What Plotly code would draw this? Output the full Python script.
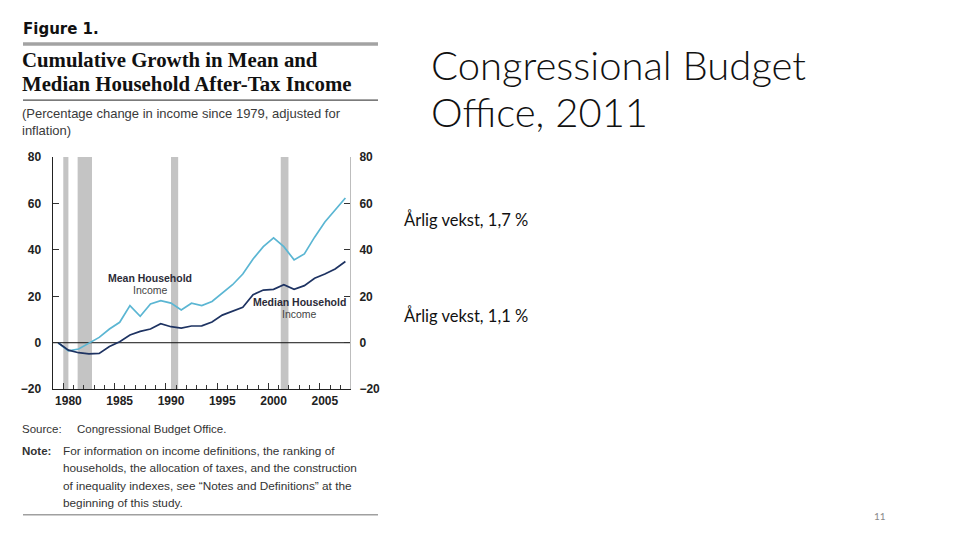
import plotly.graph_objects as go

# Chart data (percentage change since 1979)
years = list(range(1979, 2008))
mean_income = [0, -3.5, -2.7, -0.3, 2.3, 5.9, 8.8, 16.0, 11.4, 16.7,
               18.1, 17.1, 14.1, 17.0, 16.0, 17.8, 21.3, 25.0, 29.6, 36.1,
               41.4, 45.2, 41.4, 35.7, 38.3, 45.5, 52.0, 57.0, 62.4]
median_income = [0, -3.2, -4.3, -4.8, -4.6, -1.6, 0.4, 3.3, 4.9, 5.9,
                 8.2, 6.9, 6.3, 7.2, 7.3, 8.9, 11.9, 13.5, 15.3, 20.7,
                 22.7, 23.0, 25.0, 23.0, 24.6, 27.8, 29.6, 31.8, 35.0]

# recession shading (start, end) in chart years
rec_start = [1979.5, 1980.9, 1990.0, 2000.7]
rec_end = [1980.0, 1982.3, 1990.7, 2001.45]

tick_years = [1980, 1985, 1990, 1995, 2000, 2005]
y_ticks = [-20, 0, 20, 40, 60, 80]

W, H = 960, 540
MEAN_COLOR = "#5bb6d3"
MEDIAN_COLOR = "#1e3362"


# map slide pixel positions to paper coords (page offset + the photo's slight vertical squeeze)
def px_x(p):
    return (p - 8) / W


def px_y(p):
    return 1 - ((p - 14.4) / 0.974) / H


fig = go.Figure()

fig.add_trace(go.Scatter(
    x=years, y=mean_income, mode="lines",
    line=dict(color=MEAN_COLOR, width=1.7),
    name="Mean Household Income", xaxis="x", yaxis="y",
))
fig.add_trace(go.Scatter(
    x=years, y=median_income, mode="lines",
    line=dict(color=MEDIAN_COLOR, width=1.7),
    name="Median Household Income", xaxis="x2", yaxis="y2",
))

shapes = []
for s, e in zip(rec_start, rec_end):
    shapes.append(dict(type="rect", xref="x", yref="y domain", x0=s, x1=e, y0=0, y1=1,
                       fillcolor="#c4c4c4", line=dict(width=0), layer="below"))
# zero line over the shading
shapes.append(dict(type="line", xref="x domain", yref="y", x0=0, x1=1, y0=0, y1=0,
                   line=dict(color="#111111", width=1), layer="below"))
# rules of the figure box
shapes.append(dict(type="line", xref="paper", yref="paper", x0=px_x(23), x1=px_x(378),
                   y0=px_y(43.3), y1=px_y(43.3), line=dict(color="#a3a3a3", width=3.5)))
shapes.append(dict(type="line", xref="paper", yref="paper", x0=px_x(23), x1=px_x(378),
                   y0=px_y(99.5), y1=px_y(99.5), line=dict(color="#222222", width=1)))
shapes.append(dict(type="line", xref="paper", yref="paper", x0=px_x(23), x1=px_x(378),
                   y0=px_y(514), y1=px_y(514), line=dict(color="#a0a0a0", width=1.5)))

SANS = "Liberation Sans"
SERIF = "Liberation Serif"
annotations = []


def note(text, x, y, size, color="#333333", family=SANS, xanchor="left", bold=False, weight=None):
    if bold:
        text = f"<b>{text}</b>"
    font = dict(family=family, size=size, color=color)
    if weight:
        font["weight"] = weight
    annotations.append(dict(text=text, xref="paper", yref="paper", x=px_x(x), y=px_y(y),
                            xanchor=xanchor, yanchor="middle", showarrow=False, font=font))


note("Figure 1.", 21, 28, 15, "#111111", "DejaVu Sans", bold=True)
note("Cumulative Growth in Mean and", 20, 59, 20.8, "#111111", SERIF, bold=True)
note("Median Household After-Tax Income", 20, 83, 20.8, "#111111", SERIF, bold=True)
note("(Percentage change in income since 1979, adjusted for", 20, 113, 13, "#3a3a3a")
note("inflation)", 20, 130, 13, "#3a3a3a")

note("Source:", 20, 428, 11.5, "#333333")
note("Congressional Budget Office.", 75, 428, 11.5, "#333333")
note("Note:", 20, 450, 11.5, "#333333", bold=True)
note_lines = ["For information on income definitions, the ranking of",
              "households, the allocation of taxes, and the construction",
              "of inequality indexes, see \u201cNotes and Definitions\u201d at the",
              "beginning of this study."]
for i, line in enumerate(note_lines):
    note(line, 61, 450 + i * 17.5, 11.8, "#333333")

# slide text on the right
note("Congressional Budget", 429, 64, 40, "#111111", "Lato", weight=300)
note("Office, 2011", 429, 111, 40, "#111111", "Lato", weight=300)
note("\u00c5rlig vekst, 1,7 %", 402, 219, 16.5, "#111111", "Lato")
note("\u00c5rlig vekst, 1,1 %", 402, 315, 16.5, "#111111", "Lato")
note("11", 880, 515, 10, "#8a8a8a", "Lato", xanchor="center")

# series labels inside the plot
for txt, xx, yy, b in [("Mean Household", 1988, 27.8, True), ("Income", 1988, 22.6, False),
                       ("Median Household", 2002.5, 17.6, True), ("Income", 2002.5, 12.4, False)]:
    annotations.append(dict(text=f"<b>{txt}</b>" if b else txt, x=xx, y=yy, xref="x", yref="y",
                            showarrow=False, xanchor="center", yanchor="middle",
                            font=dict(family=SANS, size=10.5, color="#2b2b38" if b else "#444444")))

x_range = [1978.45, 2007.45]
y_range = [-20, 80]
x_dom = [px_x(52.5), px_x(350)]
y_dom = [px_y(388.5), px_y(156.5)]
tick_font = dict(family=SANS, size=12, color="#222222", weight="bold")

fig.update_layout(
    width=W, height=H,
    margin=dict(l=0, r=0, t=0, b=0),
    paper_bgcolor="white", plot_bgcolor="white",
    showlegend=False,
    shapes=shapes,
    annotations=annotations,
    xaxis=dict(domain=x_dom, range=x_range, tickmode="array", tickvals=tick_years,
               ticks="", showgrid=False, zeroline=False, showline=True,
               linecolor="#222222", linewidth=1, tickfont=tick_font, anchor="y"),
    xaxis2=dict(domain=x_dom, range=x_range, overlaying="x", anchor="y", side="bottom",
                tickmode="linear", tick0=1979.5, dtick=5, ticks="inside", ticklen=6,
                tickcolor="#333333", showticklabels=False, showgrid=False, zeroline=False,
                minor=dict(tick0=1979.5, dtick=1, ticks="inside", ticklen=4, tickcolor="#333333")),
    yaxis=dict(domain=y_dom, range=y_range, tickmode="array", tickvals=y_ticks,
               ticks="inside", ticklen=6, tickcolor="#333333", showgrid=False, zeroline=False,
               showline=True, linecolor="#222222", linewidth=1, ticklabelstandoff=8,
               tickfont=tick_font, anchor="x"),
    yaxis2=dict(domain=y_dom, range=y_range, overlaying="y", side="right", anchor="x",
                tickmode="array", tickvals=y_ticks, ticks="inside", ticklen=6,
                tickcolor="#333333", showgrid=False, zeroline=False, showline=True,
                linecolor="#bdbdbd", linewidth=1, ticklabelstandoff=6,
                tickfont=tick_font),
)

fig.write_html("out.html")
